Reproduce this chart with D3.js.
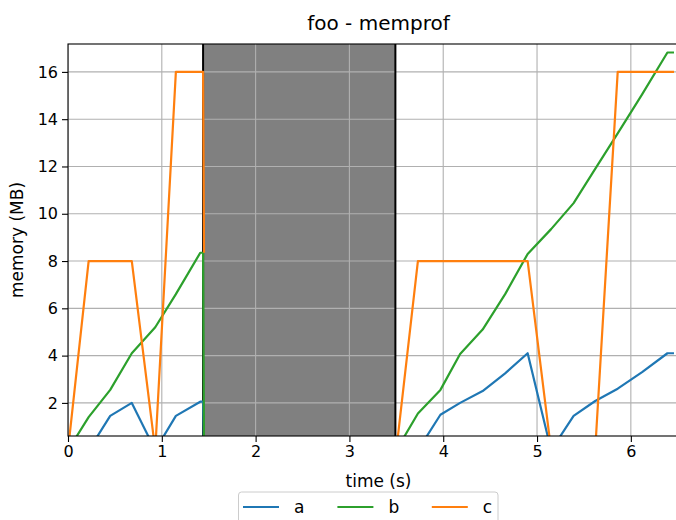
<!DOCTYPE html>
<html>
<head>
<meta charset="utf-8">
<script src="https://cdn.jsdelivr.net/npm/d3@7"></script>
<style>
  body { margin: 0; background: #fff; }
  text { font-family: "DejaVu Sans", sans-serif; fill: #000; }
</style>
</head>
<body>
<svg id="chart" width="676" height="520"></svg>
<script>
// data (time in s, memory in MB)
const seriesNames = ["a", "b", "c"];
const seriesColors = ["#1f77b4", "#2ca02c", "#ff7f0e"];

// first run, before the pause
const time1 = [0, 0.22, 0.45, 0.68, 0.93, 1.15, 1.41, 1.44, 1.45];
const a1 = [0, 0, 1.45, 2.0, 0, 1.45, 2.05, 2.05, 0];
const b1 = [0, 1.4, 2.55, 4.1, 5.2, 6.6, 8.35, 8.35, 0];
const c1 = [0, 8, 8, 8, 0, 16, 16, 16, 8.35];

// second run, after the pause
const time2 = [3.5, 3.73, 3.97, 4.18, 4.42, 4.66, 4.9, 5.15, 5.39, 5.62, 5.86, 6.12, 6.39, 6.46];
const a2 = [0, 0, 1.5, 2.0, 2.5, 3.25, 4.1, 0, 1.45, 2.08, 2.6, 3.3, 4.1, 4.1];
const b2 = [0, 1.55, 2.55, 4.07, 5.1, 6.6, 8.3, 9.35, 10.45, 11.9, 13.4, 15.05, 16.82, 16.82];
const c2 = [0, 8, 8, 8, 8, 8, 8, 0, 0, 0, 16, 16, 16, 16];

// paused interval (grey band)
const pauseStart = 1.44;
const pauseEnd = 3.49;

const xTicks = [0, 1, 2, 3, 4, 5, 6];
const yTicks = [2, 4, 6, 8, 10, 12, 14, 16];

const margin = { top: 44, left: 68, bottom: 436, right: 689 };

const svg = d3.select("#chart");

const x = d3.scaleLinear().domain([0, 6.62]).range([margin.left, margin.right]);
const y = d3.scaleLinear().domain([0.6, 17.18]).range([margin.bottom, margin.top]);

svg.append("defs").append("clipPath").attr("id", "plot-clip")
  .append("rect")
  .attr("x", margin.left).attr("y", margin.top)
  .attr("width", margin.right - margin.left)
  .attr("height", margin.bottom - margin.top);

const plot = svg.append("g").attr("clip-path", "url(#plot-clip)");

// grey band for the pause
plot.append("rect")
  .attr("x", x(pauseStart))
  .attr("y", margin.top)
  .attr("width", x(pauseEnd) - x(pauseStart))
  .attr("height", margin.bottom - margin.top)
  .attr("fill", "#808080");

// grid
plot.selectAll(".xgrid").data(xTicks).enter().append("line")
  .attr("x1", d => x(d)).attr("x2", d => x(d))
  .attr("y1", margin.top).attr("y2", margin.bottom)
  .attr("stroke", "#b0b0b0").attr("stroke-width", 1.1);
plot.selectAll(".ygrid").data(yTicks).enter().append("line")
  .attr("x1", margin.left).attr("x2", margin.right)
  .attr("y1", d => y(d)).attr("y2", d => y(d))
  .attr("stroke", "#b0b0b0").attr("stroke-width", 1.1);

// black edges of the pause
plot.selectAll(".pause").data([pauseStart, pauseEnd]).enter().append("line")
  .attr("x1", d => x(d)).attr("x2", d => x(d))
  .attr("y1", margin.top).attr("y2", margin.bottom)
  .attr("stroke", "#000").attr("stroke-width", 2);

// lines
const line = d3.line().x(d => x(d[0])).y(d => y(d[1]));
const runs = [
  [time1, [a1, b1, c1]],
  [time2, [a2, b2, c2]]
];
seriesNames.forEach((name, i) => {
  runs.forEach(([t, vals]) => {
    plot.append("path")
      .datum(t.map((tt, k) => [tt, vals[i][k]]))
      .attr("d", line)
      .attr("fill", "none")
      .attr("stroke", seriesColors[i])
      .attr("stroke-width", 2.2)
      .attr("stroke-linejoin", "round");
  });
});

// axes
const xAxis = svg.append("g")
  .attr("transform", "translate(0," + margin.bottom + ")")
  .call(d3.axisBottom(x).tickValues(xTicks).tickFormat(d3.format("d")).tickSize(6).tickPadding(4));
const yAxis = svg.append("g")
  .attr("transform", "translate(" + margin.left + ",0)")
  .call(d3.axisLeft(y).tickValues(yTicks).tickFormat(d3.format("d")).tickSize(6).tickPadding(4));
[xAxis, yAxis].forEach(ax => {
  ax.select(".domain").remove();
  ax.selectAll("text").style("font-size", "16px").attr("fill", "#000");
  ax.selectAll("line").attr("stroke", "#000").attr("stroke-width", 1.1);
});

// spines
svg.append("rect")
  .attr("x", margin.left).attr("y", margin.top)
  .attr("width", margin.right - margin.left)
  .attr("height", margin.bottom - margin.top)
  .attr("fill", "none").attr("stroke", "#000").attr("stroke-width", 1.1);

// titles
svg.append("text")
  .attr("x", (margin.left + margin.right) / 2).attr("y", 30)
  .attr("text-anchor", "middle").style("font-size", "20px")
  .text("foo - memprof");
svg.append("text")
  .attr("x", (margin.left + margin.right) / 2).attr("y", 487)
  .attr("text-anchor", "middle").style("font-size", "17px")
  .text("time (s)");
svg.append("text")
  .attr("transform", "translate(23," + (margin.top + margin.bottom) / 2 + ") rotate(-90)")
  .attr("text-anchor", "middle").style("font-size", "17px")
  .text("memory (MB)");

// legend
const legend = svg.append("g").attr("transform", "translate(238.5,492)");
legend.append("rect")
  .attr("width", 259.5).attr("height", 50).attr("rx", 3)
  .attr("fill", "#fff").attr("fill-opacity", 0.8)
  .attr("stroke", "#cccccc").attr("stroke-width", 1);
const item = legend.selectAll(".item").data(seriesNames).enter().append("g")
  .attr("transform", (d, i) => "translate(" + (4.5 + i * 94.4) + ",15)");
item.append("line")
  .attr("x1", 0).attr("x2", 36)
  .attr("stroke", (d, i) => seriesColors[i]).attr("stroke-width", 2.2);
item.append("text")
  .attr("x", 51).attr("y", 6)
  .style("font-size", "17px")
  .text(d => d);
</script>
</body>
</html>
